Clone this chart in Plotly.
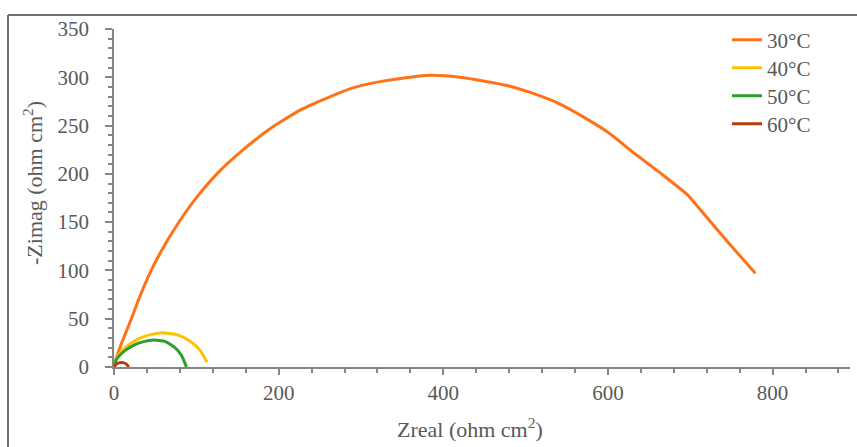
import plotly.graph_objects as go

# ---- data ----
x30 = [0, 3, 8, 15, 22, 30, 44, 58, 75, 98, 125, 157, 190, 226, 260, 290, 320, 350, 384, 420, 450, 480, 510, 540, 570, 600, 631, 665, 697, 712, 745, 779]
y30 = [0, 9, 22, 37, 52, 70, 98, 121, 145, 173, 200, 225, 247, 266, 279, 289, 295, 299, 302, 300, 296, 291, 283, 273, 259, 243, 222, 200, 178, 163, 130, 97]

x40 = [0, 3, 8, 15, 25, 38, 58, 78, 92, 104, 113]
y40 = [0, 9, 15, 21, 27, 32, 35.5, 33, 27, 18, 5]

x50 = [0, 3, 8, 15, 25, 35, 48, 62, 74, 82, 88]
y50 = [0, 8, 13, 18, 23, 26, 28, 26.5, 20, 12, 0]

x60 = [0, 3, 7, 11, 15, 18]
y60 = [0, 3, 4.5, 4.5, 3, 0]

names = ["30°C", "40°C", "50°C", "60°C"]
colors = ["#FF7216", "#FFC000", "#2E9E2E", "#B23C0A"]

x_ticks = [0, 200, 400, 600, 800]
y_ticks = [0, 50, 100, 150, 200, 250, 300, 350]

FONT = "Liberation Serif, Times New Roman, serif"
GRAY = "#595959"
AX = "#868686"

L, T, W, H = 114, 29, 736, 338

legend_ids = ["legend", "legend2", "legend3", "legend4"]
legend_centers_px = [40, 68, 96, 124]

fig = go.Figure()
for xs, ys, n, c, lg in zip([x30, x40, x50, x60], [y30, y40, y50, y60], names, colors, legend_ids):
    fig.add_trace(go.Scatter(x=xs, y=ys, mode="lines", name=n, legend=lg,
                             line=dict(color=c, width=3, shape="spline", smoothing=0.5)))

fig.update_layout(
    width=857, height=447,
    margin=dict(l=L, r=857 - L - W, t=T, b=447 - T - H),
    paper_bgcolor="white", plot_bgcolor="white",
    font=dict(family=FONT, size=21, color=GRAY),
    showlegend=True,
    xaxis=dict(range=[0, 894], tickvals=x_ticks, showgrid=False, zeroline=False,
               showline=True, linecolor=AX, linewidth=1.5,
               ticks="outside", ticklen=6, tickcolor=AX, tickwidth=1.5,
               ticklabelstandoff=0, tickfont=dict(size=21),
               minor=dict(dtick=40, ticks="outside", ticklen=4, tickcolor=AX, tickwidth=1.5, showgrid=False)),
    yaxis=dict(range=[0, 350], tickvals=y_ticks, showgrid=False, zeroline=False,
               showline=True, linecolor=AX, linewidth=1.5,
               ticks="outside", ticklen=7, tickcolor=AX, tickwidth=1.5,
               ticklabelstandoff=12, tickfont=dict(size=21),
               minor=dict(dtick=10, ticks="outside", ticklen=4, tickcolor=AX, tickwidth=1.5, showgrid=False)),
)

for lg, cy in zip(legend_ids, legend_centers_px):
    fig.update_layout({lg: dict(x=(727 - L) / W, y=(T + H - cy) / H, xanchor="left", yanchor="middle",
                                bgcolor="rgba(0,0,0,0)", borderwidth=0,
                                font=dict(size=21, color=GRAY, family=FONT), itemwidth=30)})

# axis titles
fig.add_annotation(text="Zreal (ohm cm<sup>2</sup>)", xref="paper", yref="paper",
                   x=(470 - L) / W, y=-(428 - (T + H)) / H,
                   showarrow=False, xanchor="center", yanchor="middle",
                   font=dict(family=FONT, size=22, color=GRAY))
fig.add_annotation(text="-Zimag (ohm cm<sup>2</sup>)", xref="paper", yref="paper",
                   x=(33 - L) / W, y=(T + H - 183) / H, textangle=-90,
                   showarrow=False, xanchor="center", yanchor="middle",
                   font=dict(family=FONT, size=22, color=GRAY))

# outer frame (top and left edges)
fx = (8 - L) / W
fy_top = 1 + (T - 15) / H
fy_bot = -(447 - (T + H)) / H
fx_right = (857 - L) / W
fig.add_shape(type="line", xref="paper", yref="paper", x0=fx, x1=fx_right, y0=fy_top, y1=fy_top,
              line=dict(color="#707070", width=2))
fig.add_shape(type="line", xref="paper", yref="paper", x0=fx, x1=fx, y0=fy_top, y1=fy_bot,
              line=dict(color="#707070", width=2))

fig.write_html("out.html")
